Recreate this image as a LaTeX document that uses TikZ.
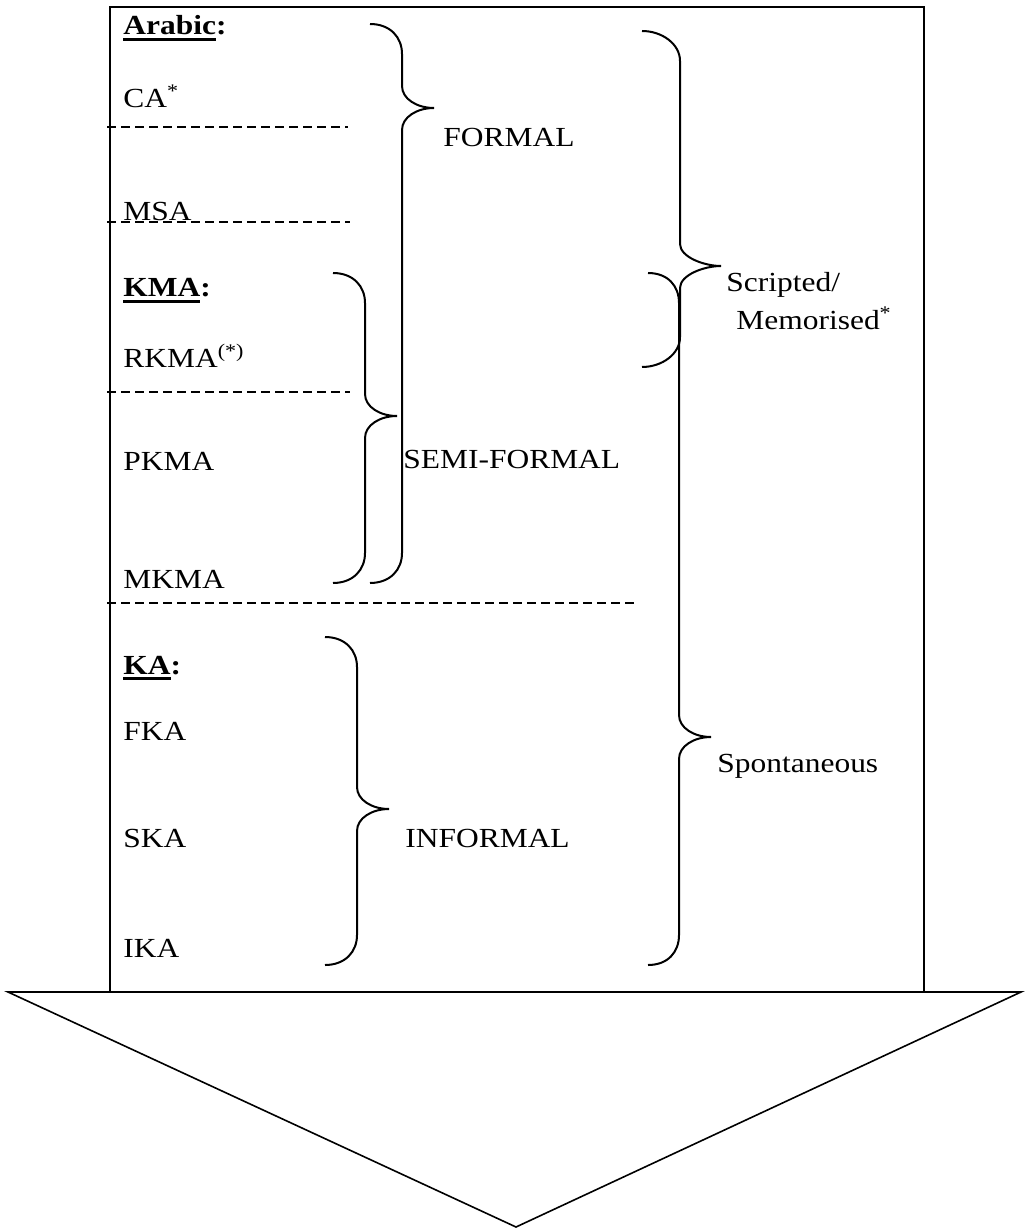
\documentclass[tikz,border=0pt]{standalone}
\usepackage{fontspec}
\setmainfont{Liberation Serif}[FakeStretch=1.14]

% thick underline for the group headings
\newcommand{\thickul}[1]{\setbox0\hbox{#1}\rlap{\rule[-2.8pt]{\wd0}{1.1pt}}\box0}

% curly brace: x-left, x-stem, x-tip, y-top, y-tip, y-bottom
\newcommand{\curlybrace}[6]{%
  \draw[curly] (#1,#4) .. controls +(20,0) and +(0,-17) .. (#2,#4+30)
    -- (#2,#5-22) .. controls +(0,13) and +(-17,0) .. (#3,#5)
    .. controls +(-17,0) and +(0,-13) .. (#2,#5+22)
    -- (#2,#6-30) .. controls +(0,17) and +(20,0) .. (#1,#6);}

\begin{document}
\begin{tikzpicture}[x=0.5pt, y=-0.5pt,
    every node/.style={inner sep=0pt, anchor=base west, font=\fontsize{13.8}{16}\selectfont},
    curly/.style={line width=1pt},
    sepline/.style={line width=0.75pt, dash pattern=on 4.5pt off 2.5pt}]
    \useasboundingbox (0,0) rectangle (1028,1229);

    % frame and arrow
    \draw[line width=0.6pt] (110,7) rectangle (924,992);
    \draw[line width=0.8pt] (8,992) -- (1021,992) -- (516,1227) -- cycle;

    % separators
    \foreach \y/\xe in {127/348, 222/350, 392/350, 603/636} {
        \draw[sepline] (107,\y) -- (\xe,\y);
    }

    % varieties
    \node (arabic) at (123,35) {\thickul{\textbf{Arabic}}\textbf{:}};
    \node (ca) at (123,108) {CA\textsuperscript{*}};
    \node (msa) at (123,221) {MSA};
    \node (kma) at (123,297) {\thickul{\textbf{KMA}}\textbf{:}};
    \node (rkma) at (123,368) {RKMA\textsuperscript{(*)}};
    \node (pkma) at (123,470) {PKMA};
    \node (mkma) at (123,588) {MKMA};
    \node (ka) at (123,674) {\thickul{\textbf{KA}}\textbf{:}};
    \node (fka) at (123,740) {FKA};
    \node (ska) at (123,847) {SKA};
    \node (ika) at (123,957) {IKA};

    % braces
    \curlybrace{370}{402}{434}{24}{108}{583}
    \curlybrace{333}{365}{397}{273}{416}{583}
    \curlybrace{325}{357}{389}{637}{809}{965}
    \curlybrace{642}{680}{721}{31}{266}{367}
    \curlybrace{648}{679}{711}{273}{737}{965}

    % registers
    \node (formal) at (443,147) {FORMAL};
    \node (semi) at (403,468) {SEMI-FORMAL};
    \node (informal) at (405,847) {INFORMAL};
    \node (scr) at (726,292) {Scripted/};
    \node (mem) at (736,330) {Memorised\textsuperscript{*}};
    \node (spont) at (717,772) {Spontaneous};
\end{tikzpicture}
\end{document}
